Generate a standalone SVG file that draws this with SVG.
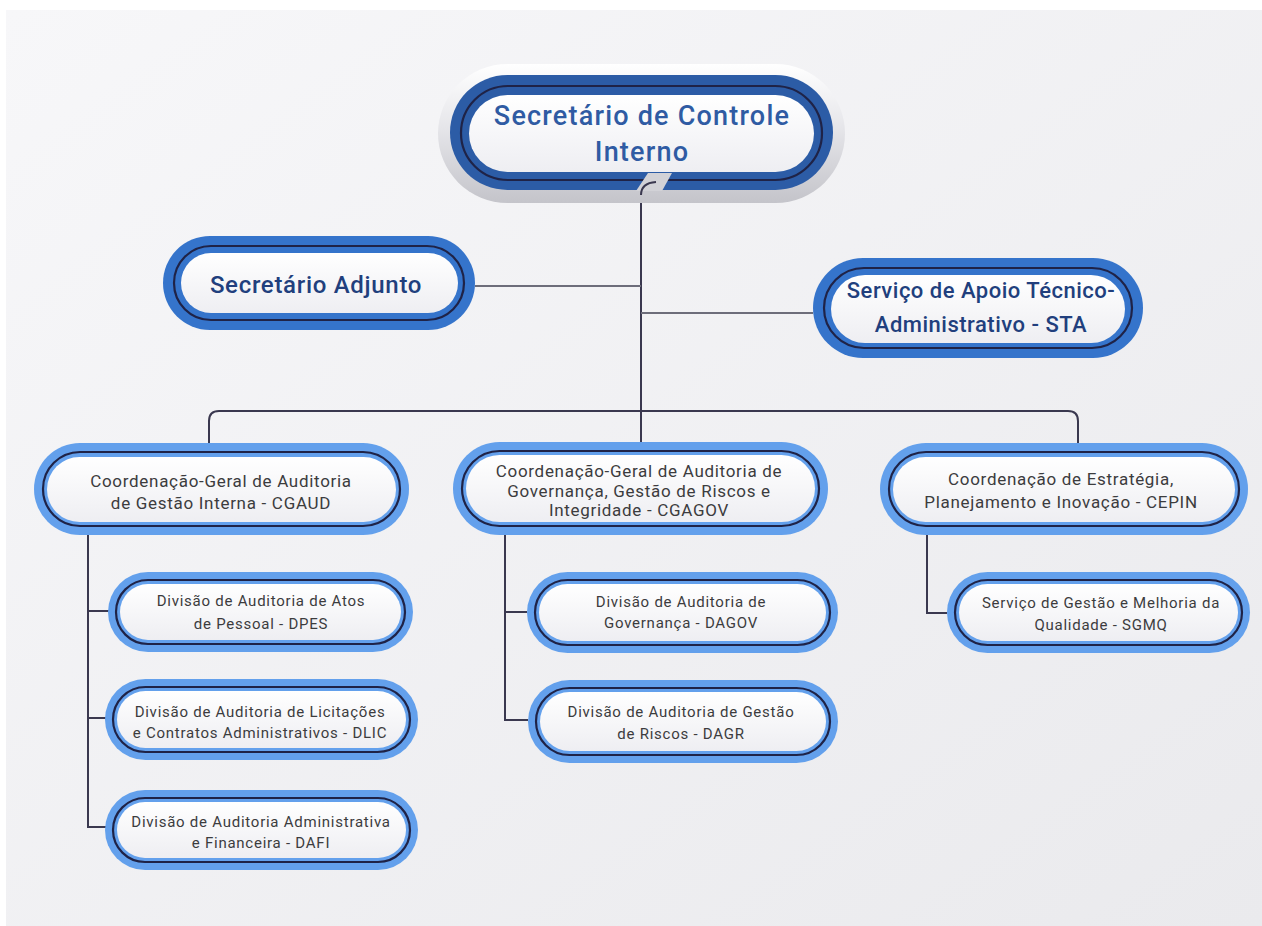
<svg xmlns="http://www.w3.org/2000/svg" width="1262" height="926" viewBox="0 0 1262 926">
<defs>
<linearGradient id="bg" x1="0" y1="0" x2="1" y2="1">
<stop offset="0" stop-color="#f7f7f9"/>
<stop offset="1" stop-color="#eaeaed"/>
</linearGradient>
<linearGradient id="wh" x1="0" y1="0" x2="0" y2="1">
<stop offset="0" stop-color="#ffffff"/>
<stop offset="1" stop-color="#eeeef2"/>
</linearGradient>
<linearGradient id="halo" x1="0" y1="0" x2="0" y2="1">
<stop offset="0" stop-color="#ffffff"/>
<stop offset="0.45" stop-color="#e6e6ea"/>
<stop offset="1" stop-color="#c4c4ca"/>
</linearGradient>
<style>
.t{font-family:Roboto,"Liberation Sans",sans-serif;text-anchor:middle}
.l2{font-size:17px;fill:#3c3c3e;letter-spacing:0.7px}
.l3{font-size:15px;fill:#3c3c3e;letter-spacing:0.75px}
.big{font-size:27px;fill:#2f5ba3;font-weight:500;letter-spacing:1.2px}
.mid{font-size:22px;fill:#213f7d;font-weight:500;letter-spacing:0.5px}
.adj{font-size:24px;letter-spacing:0.7px}
.lb{fill:#63a0ec}
.db{fill:#2c5ca6}
.mb{fill:#3574cb}
.nv{fill:none;stroke:#1f2347;stroke-width:2.2}
.in{fill:url(#wh)}
.cn{fill:none;stroke:#3a384f;stroke-width:2}
.cl{fill:none;stroke:#6d6d7a;stroke-width:1.8}
</style>
</defs>
<rect x="0" y="0" width="1262" height="926" fill="#ffffff"/>
<rect x="6" y="10" width="1256" height="916" fill="url(#bg)"/>

<g id="connectors">
<path class="cn" d="M650 183 Q641 184 641 195 L641 442"/>
<path class="cl" d="M475 286 L641 286"/>
<path class="cl" d="M641 313 L813 313"/>
<path class="cn" d="M209 443 L209 421 Q209 411 219 411 L1068 411 Q1078 411 1078 421 L1078 443"/>
<path class="cn" d="M81 527 Q88 527 88 534 L88 827 L107 827 M88 611 L110 611 M88 718 L107 718"/>
<path class="cn" d="M498 527 Q505 527 505 534 L505 720 L528 720 M505 612 L527 612"/>
<path class="cn" d="M920 527 Q927 527 927 534 L927 613 L947 613"/>
</g>

<g id="n-secretario">
<rect x="438" y="64" width="407" height="139" rx="69.5" fill="url(#halo)"/>
<rect class="db" x="450" y="75" width="383" height="115" rx="57.5"/>
<rect class="nv" x="461" y="86" width="361" height="94" rx="47"/>
<rect class="in" x="469" y="95" width="345" height="77" rx="38.5"/>
<polygon points="648,173 672,173 662,191 636,191" fill="#d2d2d7"/>
<path class="cn" d="M656 182 Q641 183 641 195"/>
<text class="t big" x="642" y="125">Secretário de Controle</text>
<text class="t big" x="642" y="161">Interno</text>
</g>

<g id="n-adjunto">
<rect class="mb" x="163" y="236" width="312" height="94" rx="47"/>
<rect class="nv" x="174" y="246" width="290" height="74" rx="37"/>
<rect class="in" x="181" y="253" width="277" height="60" rx="30"/>
<text class="t mid adj" x="316" y="293">Secretário Adjunto</text>
</g>

<g id="n-sta">
<rect class="mb" x="813" y="258" width="330" height="100" rx="50"/>
<rect class="nv" x="824" y="268" width="308" height="80" rx="40"/>
<rect class="in" x="831" y="275" width="294" height="68" rx="34"/>
<text class="t mid" x="981" y="298">Serviço de Apoio Técnico-</text>
<text class="t mid" x="981" y="332">Administrativo - STA</text>
</g>

<g id="n-cgaud">
<rect class="lb" x="34" y="443" width="375" height="92" rx="46"/>
<rect class="nv" x="43" y="452" width="357" height="74" rx="37"/>
<rect class="in" x="47" y="457" width="349" height="65" rx="32.5"/>
<text class="t l2" x="221" y="487">Coordenação-Geral de Auditoria</text>
<text class="t l2" x="221" y="509">de Gestão Interna - CGAUD</text>
</g>

<g id="n-cgagov">
<rect class="lb" x="453" y="442" width="375" height="93" rx="46.5"/>
<rect class="nv" x="462" y="451" width="357" height="75" rx="37.5"/>
<rect class="in" x="466" y="455" width="349" height="67" rx="33.5"/>
<text class="t l2" x="639" y="477">Coordenação-Geral de Auditoria de</text>
<text class="t l2" x="639" y="497">Governança, Gestão de Riscos e</text>
<text class="t l2" x="639" y="516">Integridade - CGAGOV</text>
</g>

<g id="n-cepin">
<rect class="lb" x="880" y="443" width="368" height="92" rx="46"/>
<rect class="nv" x="889" y="452" width="350" height="74" rx="37"/>
<rect class="in" x="893" y="457" width="342" height="65" rx="32.5"/>
<text class="t l2" x="1061" y="485">Coordenação de Estratégia,</text>
<text class="t l2" x="1061" y="508">Planejamento e Inovação - CEPIN</text>
</g>

<g id="n-dpes">
<rect class="lb" x="108" y="572" width="305" height="80" rx="40"/>
<rect class="nv" x="116" y="580" width="289" height="64" rx="32"/>
<rect class="in" x="120" y="584" width="281" height="56" rx="28"/>
<text class="t l3" x="261" y="606">Divisão de Auditoria de Atos</text>
<text class="t l3" x="261" y="629">de Pessoal - DPES</text>
</g>

<g id="n-dlic">
<rect class="lb" x="105" y="679" width="313" height="81" rx="40.5"/>
<rect class="nv" x="113" y="687" width="297" height="65" rx="32.5"/>
<rect class="in" x="117" y="691" width="289" height="57" rx="28.5"/>
<text class="t l3" x="260" y="717">Divisão de Auditoria de Licitações</text>
<text class="t l3" x="260" y="738">e Contratos Administrativos - DLIC</text>
</g>

<g id="n-dafi">
<rect class="lb" x="105" y="790" width="313" height="80" rx="40"/>
<rect class="nv" x="113" y="798" width="297" height="64" rx="32"/>
<rect class="in" x="117" y="802" width="289" height="56" rx="28"/>
<text class="t l3" x="261" y="827">Divisão de Auditoria Administrativa</text>
<text class="t l3" x="261" y="848">e Financeira - DAFI</text>
</g>

<g id="n-dagov">
<rect class="lb" x="527" y="572" width="311" height="81" rx="40.5"/>
<rect class="nv" x="535" y="580" width="295" height="65" rx="32.5"/>
<rect class="in" x="539" y="584" width="287" height="57" rx="28.5"/>
<text class="t l3" x="681" y="607">Divisão de Auditoria de</text>
<text class="t l3" x="681" y="628">Governança - DAGOV</text>
</g>

<g id="n-dagr">
<rect class="lb" x="528" y="680" width="310" height="83" rx="41.5"/>
<rect class="nv" x="536" y="688" width="294" height="67" rx="33.5"/>
<rect class="in" x="540" y="692" width="286" height="59" rx="29.5"/>
<text class="t l3" x="681" y="717">Divisão de Auditoria de Gestão</text>
<text class="t l3" x="681" y="739">de Riscos - DAGR</text>
</g>

<g id="n-sgmq">
<rect class="lb" x="947" y="572" width="303" height="81" rx="40.5"/>
<rect class="nv" x="955" y="580" width="287" height="65" rx="32.5"/>
<rect class="in" x="959" y="584" width="279" height="57" rx="28.5"/>
<text class="t l3" x="1101" y="608">Serviço de Gestão e Melhoria da</text>
<text class="t l3" x="1101" y="630">Qualidade - SGMQ</text>
</g>
</svg>
